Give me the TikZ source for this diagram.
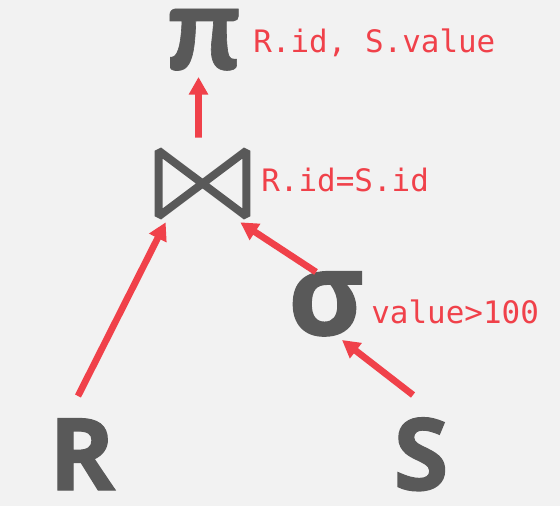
\documentclass[tikz,border=0pt]{standalone}
\usepackage{fontspec}
\usetikzlibrary{arrows.meta}
\newfontfamily\symfont{Open Sans}[BoldFeatures={FakeBold=1.2}]
\newfontfamily\pifont{Carlito}[BoldFeatures={FakeBold=0.5}]
\newfontfamily\condfont{DejaVu Sans Mono}
\definecolor{opred}{HTML}{F0414A}
\definecolor{symgray}{HTML}{595959}
\definecolor{bggray}{HTML}{F2F2F2}
\tikzset{
	sym/.style={text=symgray, inner sep=0pt, anchor=base, text depth=0pt},
	cond/.style={text=opred, inner sep=0pt, anchor=base west, font=\condfont\fontsize{17.6}{20}\selectfont},
	flow/.style={draw=opred, line width=3.8pt, -{Triangle[length=10pt,width=10.5pt]}},
	bowtie/.style={draw=symgray, line width=4.5pt, line join=bevel}
}
\begin{document}
\begin{tikzpicture}[x=0.02cm, y=-0.02cm]
	% Фон
	\fill[bggray] (0,0) rectangle (560,506);
	
	%%% Операторы и отношения
	\node[sym, text height=1.24cm, font=\pifont\bfseries\fontsize{72}{76}\selectfont] (pi) at (204,70) {π};
	\node[inner sep=0pt, minimum width=1.74cm, minimum height=1.30cm] (join) at (202.5,183.5) {};
	\draw[bowtie] (join.north west) -- (join.south west) -- (join.north east) -- (join.south east) -- cycle;
	\node[sym, text height=1.14cm, font=\symfont\bfseries\fontsize{66}{70}\selectfont] (sigma) at (326,335) {σ};
	\node[sym, text height=1.44cm, font=\symfont\bfseries\fontsize{57}{60}\selectfont] (R) at (82,490) {R};
	\node[sym, text height=1.44cm, font=\symfont\bfseries\fontsize{57}{60}\selectfont] (S) at (421,490) {S};
	
	%%% Стрелки
	\draw[flow] ([shift={(-4,-13)}]join.north) -- ([shift={(-5.5,7)}]pi.base);
	\draw[flow] ([shift={(-4,-94)}]R.base) -- ([shift={(7,6)}]join.south west);
	\draw[flow] ([shift={(-10,-63)}]sigma.base) -- ([shift={(-6,6)}]join.south east);
	\draw[flow] ([shift={(-8,-95)}]S.base) -- ([shift={(16,5)}]sigma.base);
	
	%%% Подписи
	\node[cond] (proj) at (253,53) {R.id, S.value};
	\node[cond] (pred) at (261,192) {R.id=S.id};
	\node[cond] (filt) at (371,323) {value>100};
\end{tikzpicture}
\end{document}
